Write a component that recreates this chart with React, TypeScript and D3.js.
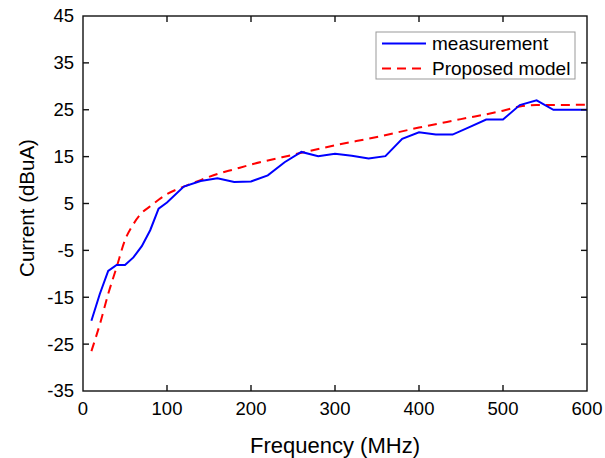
import React from 'react';
import * as d3 from 'd3';

const width = 605;
const height = 458;
const margin = { top: 16, right: 18, bottom: 67, left: 83 };

// measured current, dBuA
const measFreq = [10, 20, 30, 40, 50, 60, 70, 80, 90, 100, 120, 140, 160, 180, 200, 220, 240, 260, 280, 300, 320, 340, 360, 380, 400, 420, 440, 460, 480, 500, 520, 540, 560, 580, 600];
const measValues = [-20, -14.3, -9.4, -8.1, -8.1, -6.5, -4.1, -0.7, 3.9, 5.2, 8.6, 9.8, 10.4, 9.6, 9.7, 11, 13.8, 16, 15.1, 15.6, 15.2, 14.6, 15.1, 18.8, 20.2, 19.7, 19.7, 21.3, 22.9, 22.9, 26, 27, 25, 25, 25];

// proposed model
const modelFreq = [10, 20, 30, 40, 50, 60, 70, 80, 90, 100, 120, 140, 160, 180, 200, 250, 300, 350, 400, 450, 500, 520, 540, 560, 600];
const modelValues = [-26.5, -20.8, -14.3, -8.6, -2.8, 0.6, 3, 4.4, 5.8, 7, 8.6, 10, 11.3, 12.3, 13.3, 15.4, 17.4, 19.2, 21.2, 23, 24.8, 25.7, 26, 26, 26.1];

const xTicks = [0, 100, 200, 300, 400, 500, 600];
const yTicks = [-35, -25, -15, -5, 5, 15, 25, 35, 45];

const legendLabels = ['measurement', 'Proposed model'];

const font = 'Arial, "Liberation Sans", sans-serif';

export default function App() {
  const x = d3.scaleLinear().domain([0, 600]).range([margin.left, width - margin.right]);
  const y = d3.scaleLinear().domain([-35, 45]).range([height - margin.bottom, margin.top]);

  const meas = measFreq.map((f, i) => [f, measValues[i]] as [number, number]);
  const model = modelFreq.map((f, i) => [f, modelValues[i]] as [number, number]);

  const measLine = d3.line<[number, number]>().x(d => x(d[0])).y(d => y(d[1]));
  const modelLine = d3.line<[number, number]>().x(d => x(d[0])).y(d => y(d[1])).curve(d3.curveMonotoneX);

  const x0 = x.range()[0], x1 = x.range()[1];
  const y0 = y.range()[0], y1 = y.range()[1];
  const tick = 6;

  const lx = 376, ly = 32, lw = 199, lh = 47;

  return (
    <svg width={width} height={height} style={{ position: 'absolute', left: 0, top: 0, background: '#fff' }}>
      <path d={modelLine(model) || ''} fill="none" stroke="#ff0000" strokeWidth={2} strokeDasharray="9,6" />
      <path d={measLine(meas) || ''} fill="none" stroke="#0000ff" strokeWidth={2} />

      {/* frame + inward ticks on all four sides */}
      <rect x={x0} y={y1} width={x1 - x0} height={y0 - y1} fill="none" stroke="#111" strokeWidth={1.4} />
      {xTicks.slice(1, -1).map(t => (
        <g key={'x' + t}>
          <line x1={x(t)} x2={x(t)} y1={y0} y2={y0 - tick} stroke="#111" strokeWidth={1.4} />
          <line x1={x(t)} x2={x(t)} y1={y1} y2={y1 + tick} stroke="#111" strokeWidth={1.4} />
        </g>
      ))}
      {yTicks.slice(1, -1).map(t => (
        <g key={'y' + t}>
          <line x1={x0} x2={x0 + tick} y1={y(t)} y2={y(t)} stroke="#111" strokeWidth={1.4} />
          <line x1={x1} x2={x1 - tick} y1={y(t)} y2={y(t)} stroke="#111" strokeWidth={1.4} />
        </g>
      ))}

      {xTicks.map(t => (
        <text key={'xl' + t} x={x(t)} y={415} textAnchor="middle" fontFamily={font} fontSize={18.5} fill="#000">{t}</text>
      ))}
      {yTicks.map(t => (
        <text key={'yl' + t} x={74} y={y(t)} dy="0.35em" textAnchor="end" fontFamily={font} fontSize={18.5} fill="#000">{t}</text>
      ))}

      <text x={(x0 + x1) / 2} y={453} textAnchor="middle" fontFamily={font} fontSize={22} fill="#000">Frequency (MHz)</text>
      <text transform={`translate(34, 208) rotate(-90)`} textAnchor="middle" fontFamily={font} fontSize={20.5} fill="#000">Current (dBuA)</text>

      <g>
        <rect x={lx} y={ly} width={lw} height={lh} fill="#fff" stroke="#999" strokeWidth={1} />
        <line x1={lx + 6} x2={lx + 50} y1={ly + 11.5} y2={ly + 11.5} stroke="#0000ff" strokeWidth={2} />
        <line x1={lx + 6} x2={lx + 50} y1={ly + 36.5} y2={ly + 36.5} stroke="#ff0000" strokeWidth={2} strokeDasharray="9,6" />
        {legendLabels.map((l, i) => (
          <text key={l} x={lx + 56} y={ly + 11.5 + i * 25} dy="0.35em" fontFamily={font} fontSize={19} fill="#000">{l}</text>
        ))}
      </g>
    </svg>
  );
}
